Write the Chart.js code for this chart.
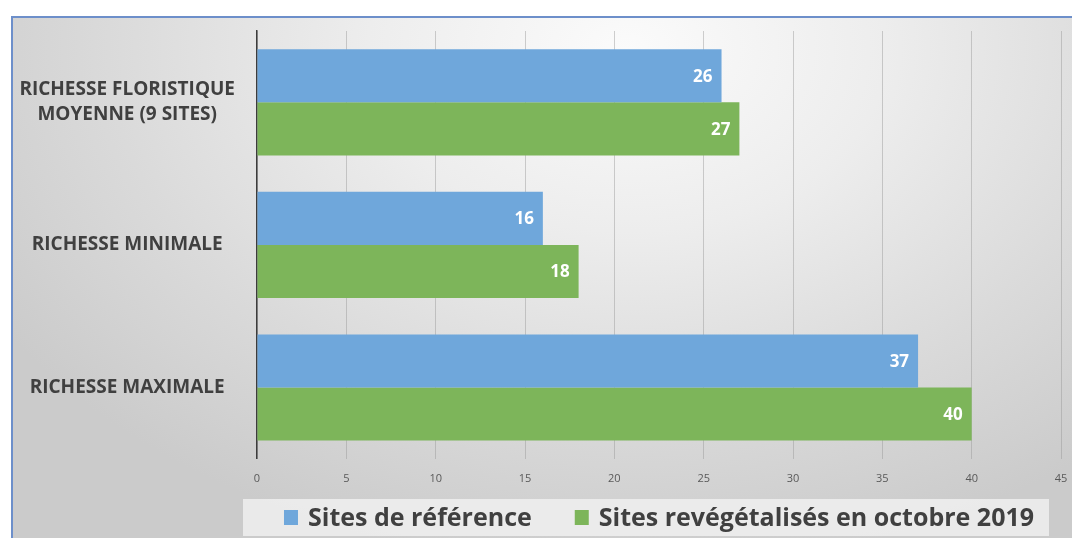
<!DOCTYPE html>
<html>
<head>
<meta charset="utf-8">
<script src="https://cdn.jsdelivr.net/npm/chart.js@4.4.1/dist/chart.umd.min.js"></script>
<style>
  html, body { margin: 0; padding: 0; background: #ffffff; }
  #frame {
    position: absolute; left: 11px; top: 16px; width: 1061px; height: 522px;
    box-sizing: border-box;
    border-top: 2px solid #6d8fca; border-left: 2px solid #6d8fca;
    background: radial-gradient(ellipse 70% 100% at 58% 6%, #fbfbfb 0%, #ededed 35%, #dadada 70%, #cbcbcb 100%);
  }
  #wrap { position: absolute; left: 0; top: 0; width: 1072px; height: 538px; }
</style>
</head>
<body>
<div id="frame"></div>
<div id="wrap"><canvas id="chart"></canvas></div>
<script>
// Categories (top to bottom) and the two series
const categories = [['RICHESSE FLORISTIQUE', 'MOYENNE (9 SITES)'], 'RICHESSE MINIMALE', 'RICHESSE MAXIMALE'];
const seriesNames = ['Sites de référence', 'Sites revégétalisés en octobre 2019'];
const referenceSites = [26, 16, 37];
const revegetatedSites = [27, 18, 40];
// Value axis
const axisMin = 0;
const axisMax = 45;
const axisStep = 5;

const FONT = "'Open Sans', 'DejaVu Sans', sans-serif";

// Legend strip under the plot: light panel, colour keys and series names
const legendStrip = {
  id: 'legendStrip',
  beforeDraw(chart) {
    const { ctx, chartArea } = chart;
    const cy = 517.5;
    ctx.save();
    ctx.fillStyle = 'rgba(240,240,240,0.85)';
    ctx.fillRect(chartArea.left - 14, cy - 18.5, chartArea.right - chartArea.left + 2, 37);

    ctx.font = 'bold 25px ' + FONT;
    const box = 14, gap = 10, between = 43;
    const items = chart.data.datasets.map(ds => ({
      text: ds.label, color: ds.backgroundColor, w: ctx.measureText(ds.label).width
    }));
    let total = 0;
    items.forEach((it, i) => { total += box + gap + it.w + (i ? between : 0); });
    let x = (chartArea.left + chartArea.right) / 2 - total / 2;
    ctx.textBaseline = 'middle';
    ctx.textAlign = 'left';
    items.forEach((it, i) => {
      if (i) x += between;
      ctx.fillStyle = it.color;
      ctx.fillRect(x, cy - 7.5, box, 15);
      x += box + gap;
      ctx.fillStyle = '#404040';
      ctx.fillText(it.text, x, cy + 1);
      x += it.w;
    });
    ctx.restore();
  }
};

// Values written inside the end of each bar
const barValues = {
  id: 'barValues',
  afterDatasetsDraw(chart) {
    const { ctx } = chart;
    ctx.save();
    ctx.font = 'bold 17px ' + FONT;
    ctx.fillStyle = '#ffffff';
    ctx.textAlign = 'right';
    ctx.textBaseline = 'middle';
    chart.data.datasets.forEach((ds, i) => {
      const meta = chart.getDatasetMeta(i);
      meta.data.forEach((bar, j) => {
        ctx.fillText(String(ds.data[j]), bar.x - 9, bar.y + 1);
      });
    });
    ctx.restore();
  }
};

new Chart(document.getElementById('chart'), {
  type: 'bar',
  data: {
    labels: categories,
    datasets: [
      { label: seriesNames[0], data: referenceSites, backgroundColor: '#6fa7db' },
      { label: seriesNames[1], data: revegetatedSites, backgroundColor: '#7db55a' }
    ]
  },
  options: {
    indexAxis: 'y',
    responsive: true,
    maintainAspectRatio: false,
    animation: false,
    categoryPercentage: 0.745,
    barPercentage: 1.0,
    layout: { padding: { top: 31, right: 11, bottom: 53, left: 0 } },
    scales: {
      x: {
        min: axisMin,
        max: axisMax,
        ticks: {
          stepSize: axisStep,
          color: '#595959',
          font: { family: FONT, size: 11 },
          padding: 0
        },
        grid: {
          color: 'rgba(150,150,150,0.45)',
          lineWidth: 1,
          drawTicks: true,
          tickLength: 13,
          tickColor: 'rgba(0,0,0,0)'
        },
        border: { display: false }
      },
      y: {
        ticks: {
          color: '#404040',
          crossAlign: 'center',
          padding: 14,
          font: { family: FONT, size: 19, weight: 'bold', lineHeight: 1.3 }
        },
        grid: { display: false },
        border: { display: true, color: '#3c3c3c', width: 1.5 },
        afterFit(scale) { scale.width = 257; }
      }
    },
    plugins: {
      legend: { display: false },
      tooltip: { enabled: false }
    }
  },
  plugins: [legendStrip, barValues]
});
</script>
</body>
</html>
